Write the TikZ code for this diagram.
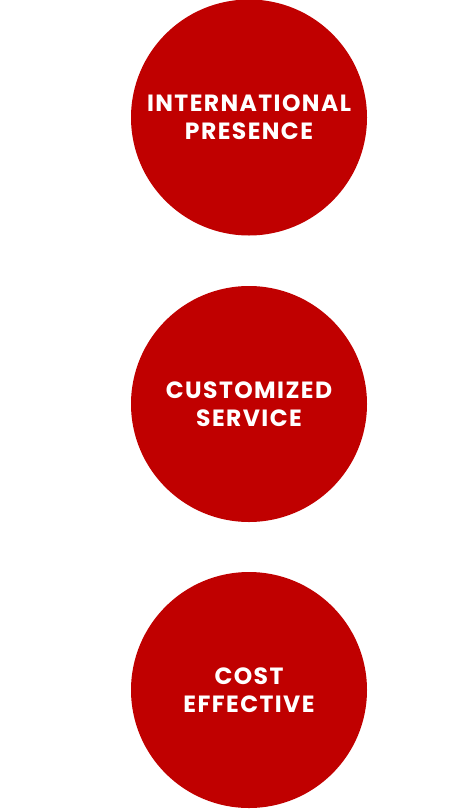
\documentclass[tikz,border=0pt]{standalone}
\usepackage{fontspec}
\newfontfamily\bubblefont{Poppins}[LetterSpace=6]
\definecolor{bubblered}{RGB}{192,0,0}
\tikzset{
  bubble/.style = {
    circle, fill=bubblered, text=white, inner sep=0pt,
    minimum size=236pt, align=center,
    font=\bubblefont\bfseries\fontsize{23.5pt}{28pt}\selectfont
  }
}

\begin{document}
\begin{tikzpicture}[x=1pt,y=-1pt]
  \useasboundingbox (0,0) rectangle (472,809);
  \node[bubble] (intl)   at (249,117.5) {INTERNATIONAL\\PRESENCE};
  \node[bubble] (custom) at (249,404)   {CUSTOMIZED\\SERVICE};
  \node[bubble] (cost)   at (249,690)   {COST\\EFFECTIVE};
\end{tikzpicture}
\end{document}
